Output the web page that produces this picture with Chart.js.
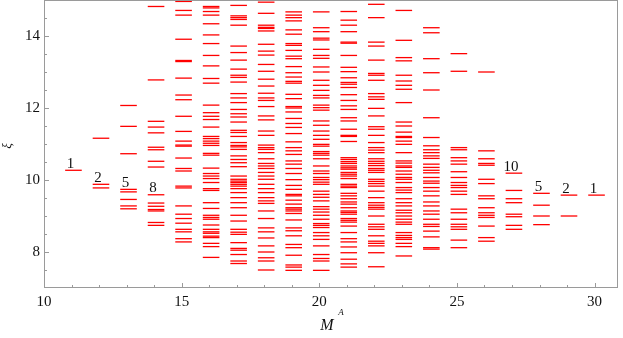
<!DOCTYPE html>
<html>
<head>
<meta charset="utf-8">
<script src="https://cdn.jsdelivr.net/npm/chart.js@4.4.0/dist/chart.umd.min.js"></script>
<style>
  body { margin: 0; background: #fff; }
</style>
</head>
<body>
<canvas id="chLevels" width="623" height="338"></canvas>
<script>
// levels xi for each M^A
var masses = [11, 12, 13, 14, 15, 16, 17, 18, 19, 20, 21, 22, 23, 24, 25, 26, 27, 28, 29, 30];

var xi11 = [10.27];
var xi12 = [11.16, 9.88, 9.78];
var xi13 = [12.07, 11.49, 10.73, 9.74, 9.67, 9.46, 9.28, 9.20];
var xi14 = [15.0, 14.82, 12.78, 11.63, 11.47, 11.31, 10.91, 10.84, 10.52, 10.36, 9.59, 9.36, 9.27, 9.18, 9.14, 8.82, 8.74];
var xi15 = [14.96, 14.71, 14.58, 13.91, 13.32, 13.29, 12.83, 12.36, 12.23, 11.77, 11.35, 11.08, 10.97, 10.94, 10.61, 10.32, 10.25, 9.83, 9.78, 9.28, 9.05, 8.93, 8.80, 8.63, 8.56, 8.37, 8.28];
var xi16 = [14.99, 14.82, 14.78, 14.68, 14.58, 14.34, 14.03, 13.79, 13.46, 13.17, 12.82, 12.69, 12.08, 11.87, 11.77, 11.68, 11.47, 11.21, 11.15, 11.08, 11.02, 10.96, 10.74, 10.69, 10.33, 10.18, 10.11, 10.04, 9.93, 9.76, 9.71, 9.37, 9.21, 9.02, 8.96, 8.91, 8.75, 8.63, 8.56, 8.52, 8.44, 8.40, 8.24, 8.15, 7.85];
var xi17 = [14.99, 14.85, 14.56, 14.51, 14.46, 14.30, 13.72, 13.54, 13.33, 13.08, 12.91, 12.85, 12.72, 12.40, 12.28, 12.15, 11.96, 11.84, 11.75, 11.61, 11.38, 11.32, 11.21, 11.04, 10.96, 10.92, 10.85, 10.67, 10.57, 10.48, 10.37, 10.11, 10.02, 9.97, 9.93, 9.88, 9.83, 9.76, 9.65, 9.51, 9.37, 9.23, 9.02, 8.86, 8.63, 8.55, 8.49, 8.26, 8.10, 8.05, 7.93, 7.75, 7.68];
var xi18 = [14.99, 14.94, 14.63, 14.30, 14.24, 14.21, 14.14, 13.77, 13.58, 13.47, 13.21, 13.02, 12.80, 12.61, 12.41, 12.28, 12.21, 12.04, 11.78, 11.67, 11.36, 11.24, 10.97, 10.90, 10.85, 10.76, 10.59, 10.46, 10.39, 10.32, 10.21, 10.11, 10.02, 9.88, 9.76, 9.65, 9.51, 9.42, 9.35, 9.14, 8.93, 8.67, 8.56, 8.39, 8.17, 8.00, 7.84, 7.75, 7.50];
var xi19 = [14.67, 14.58, 14.51, 14.42, 14.17, 14.05, 13.79, 13.74, 13.60, 13.44, 13.37, 13.15, 12.98, 12.86, 12.74, 12.69, 12.38, 12.26, 12.04, 12.00, 11.89, 11.71, 11.57, 11.46, 11.29, 11.06, 10.90, 10.81, 10.71, 10.53, 10.44, 10.32, 10.18, 10.01, 9.85, 9.74, 9.60, 9.56, 9.44, 9.33, 9.23, 9.19, 9.14, 9.07, 8.89, 8.67, 8.59, 8.45, 8.21, 8.12, 7.91, 7.64, 7.58, 7.49];
var xi20 = [14.67, 14.23, 14.12, 13.94, 13.89, 13.63, 13.46, 13.38, 13.14, 13.00, 12.77, 12.63, 12.49, 12.35, 12.28, 12.08, 12.01, 11.94, 11.64, 11.52, 11.36, 11.24, 11.13, 10.99, 10.94, 10.79, 10.74, 10.69, 10.59, 10.39, 10.25, 10.18, 10.07, 10.01, 9.94, 9.88, 9.69, 9.60, 9.52, 9.42, 9.26, 9.19, 9.11, 9.02, 8.91, 8.79, 8.74, 8.68, 8.54, 8.45, 8.35, 8.17, 7.93, 7.82, 7.75, 7.49];
var xi21 = [14.99, 14.68, 14.44, 14.30, 14.12, 13.83, 13.80, 13.46, 13.13, 13.01, 12.84, 12.71, 12.66, 12.57, 12.37, 12.21, 12.06, 11.96, 11.73, 11.64, 11.41, 11.24, 11.21, 11.07, 10.62, 10.57, 10.51, 10.46, 10.39, 10.34, 10.30, 10.21, 10.16, 10.11, 10.04, 9.88, 9.83, 9.79, 9.63, 9.56, 9.48, 9.39, 9.33, 9.23, 9.14, 9.10, 9.05, 8.93, 8.88, 8.83, 8.72, 8.54, 8.37, 8.28, 8.14, 7.98, 7.80, 7.67, 7.58];
var xi22 = [14.88, 14.51, 13.83, 13.72, 13.33, 12.96, 12.91, 12.77, 12.40, 12.31, 12.24, 11.99, 11.78, 11.48, 11.41, 11.24, 11.04, 10.90, 10.83, 10.76, 10.59, 10.52, 10.46, 10.40, 10.32, 10.27, 10.21, 10.02, 9.96, 9.90, 9.83, 9.69, 9.51, 9.37, 9.30, 9.24, 9.19, 9.00, 8.77, 8.70, 8.63, 8.45, 8.30, 8.24, 8.17, 7.98, 7.59];
var xi23 = [14.71, 13.88, 13.40, 13.31, 12.91, 12.75, 12.63, 12.52, 12.15, 11.61, 11.50, 11.33, 11.21, 11.18, 11.08, 10.99, 10.76, 10.53, 10.47, 10.39, 10.35, 10.25, 10.16, 10.07, 10.02, 9.93, 9.79, 9.72, 9.65, 9.48, 9.37, 9.28, 9.16, 9.09, 9.00, 8.91, 8.83, 8.77, 8.54, 8.46, 8.40, 8.35, 8.24, 8.15, 7.89];
var xi24 = [14.23, 14.09, 13.37, 12.98, 12.50, 11.73, 11.18, 10.95, 10.84, 10.76, 10.67, 10.60, 10.44, 10.35, 10.27, 10.20, 10.07, 9.97, 9.91, 9.79, 9.69, 9.56, 9.39, 9.28, 9.14, 9.05, 8.91, 8.77, 8.71, 8.58, 8.42, 8.12, 8.08];
var xi25 = [13.51, 13.02, 10.90, 10.84, 10.62, 10.53, 10.44, 10.23, 10.07, 9.93, 9.85, 9.79, 9.69, 9.60, 9.19, 9.09, 8.91, 8.77, 8.70, 8.63, 8.33, 8.12];
var xi26 = [13.00, 10.81, 10.59, 10.46, 10.41, 10.02, 9.90, 9.56, 9.48, 9.23, 9.09, 9.02, 8.96, 8.72, 8.40, 8.30];
var xi27 = [10.19, 9.71, 9.48, 9.37, 9.05, 8.98, 8.74, 8.63];
var xi28 = [9.63, 9.30, 9.00, 8.76];
var xi29 = [9.58, 9.00];
var xi30 = [9.58];

var levelsByMass = [xi11, xi12, xi13, xi14, xi15, xi16, xi17, xi18, xi19, xi20,
                    xi21, xi22, xi23, xi24, xi25, xi26, xi27, xi28, xi29, xi30];

// count labels on the outer columns
var labelMass = [11, 12, 13, 14, 27, 28, 29, 30];
var labelText = ['1', '2', '5', '8', '10', '5', '2', '1'];
var labelXi = [10.27, 9.88, 9.74, 9.59, 10.19, 9.63, 9.58, 9.58];

var xTicks = [10, 15, 20, 25, 30];
var yTicks = [8, 10, 12, 14];

var points = [];
masses.forEach(function(m, i) {
  levelsByMass[i].forEach(function(v) {
    points.push({ x: m + 0.07, y: v });
  });
});

var axisColor = '#9a9a9a';
var serif = '"Liberation Serif", "Times New Roman", serif';

// frame, inward ticks, count labels and axis titles
var framePlugin = {
  id: 'frame',
  afterDatasetsDraw: function(chart) {
    var ctx = chart.ctx;
    var a = chart.chartArea;
    var xs = chart.scales.x;
    var ys = chart.scales.y;
    ctx.save();
    ctx.strokeStyle = axisColor;
    ctx.lineWidth = 1;
    ctx.strokeRect(a.left + 0.5, a.top + 0.5, a.right - a.left - 1, a.bottom - a.top - 1);

    ctx.beginPath();
    for (var v = 10; v <= 30; v++) {
      var px = Math.round(xs.getPixelForValue(v)) + 0.5;
      var len = v % 5 === 0 ? 5 : 3;
      ctx.moveTo(px, a.bottom);
      ctx.lineTo(px, a.bottom - len);
    }
    for (var w = 7.5; w < 15; w += 0.5) {
      var py = Math.round(ys.getPixelForValue(w)) + 0.5;
      var l2 = w % 2 === 0 ? 5 : 3;
      ctx.moveTo(a.left, py);
      ctx.lineTo(a.left + l2, py);
    }
    ctx.stroke();

    ctx.fillStyle = '#111';
    ctx.font = '15px ' + serif;
    ctx.textAlign = 'center';
    ctx.textBaseline = 'alphabetic';
    labelMass.forEach(function(m, i) {
      ctx.fillText(labelText[i], xs.getPixelForValue(m) - 1, ys.getPixelForValue(labelXi[i]) - 2.5);
    });

    // x title M^A
    ctx.font = 'italic 16px ' + serif;
    ctx.fillText('M', 327, 330);
    ctx.font = 'italic 9px ' + serif;
    ctx.fillText('A', 341, 315);

    // y title xi
    ctx.save();
    ctx.translate(11, 146);
    ctx.rotate(-Math.PI / 2);
    ctx.font = 'italic 13px ' + serif;
    ctx.fillText('ξ', 0, 0);
    ctx.restore();

    ctx.restore();
  }
};

var tickFont = { family: serif, size: 15 };

new Chart(document.getElementById('chLevels'), {
  type: 'scatter',
  data: {
    datasets: [{
      data: points,
      pointStyle: 'line',
      pointRadius: 8.3,
      pointBorderWidth: 1.3,
      borderColor: 'rgb(255,0,0)',
      backgroundColor: 'rgb(255,0,0)'
    }]
  },
  options: {
    responsive: false,
    animation: false,
    events: [],
    layout: { autoPadding: false, padding: { top: 0, right: 5, left: 0, bottom: 0 } },
    plugins: {
      legend: { display: false },
      tooltip: { enabled: false }
    },
    scales: {
      x: {
        type: 'linear',
        min: 10,
        max: 30.85,
        grid: { display: false, drawTicks: false },
        border: { display: false },
        afterBuildTicks: function(s) { s.ticks = xTicks.map(function(v) { return { value: v }; }); },
        afterFit: function(s) { s.height = 50; s.paddingLeft = 0; s.paddingRight = 0; },
        ticks: { padding: 5, color: '#111', font: tickFont, maxRotation: 0, autoSkip: false }
      },
      y: {
        type: 'linear',
        min: 7,
        max: 15,
        grid: { display: false, drawTicks: false },
        border: { display: false },
        afterBuildTicks: function(s) { s.ticks = yTicks.map(function(v) { return { value: v }; }); },
        afterFit: function(s) { s.width = 44; s.paddingTop = 0; s.paddingBottom = 0; },
        ticks: { padding: 4, color: '#111', font: tickFont, autoSkip: false }
      }
    }
  },
  plugins: [framePlugin]
});
</script>
</body>
</html>
